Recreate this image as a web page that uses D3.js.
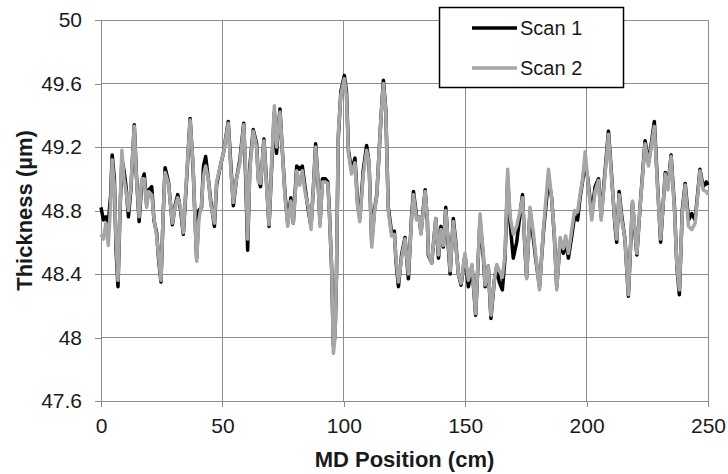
<!DOCTYPE html>
<html>
<head>
<meta charset="utf-8">
<script src="https://cdn.jsdelivr.net/npm/d3@7"></script>
<style>
  body { margin: 0; background: #fff; }
  svg { display: block; font-family: "Liberation Sans", Arial, sans-serif; }
</style>
</head>
<body>
<div id="chart"></div>
<script>
// MD position (cm) where both scans were read
const positions = [
  0, 1, 2, 3, 4, 4.6, 5.5, 6.2, 7, 7.8, 8.6, 9.5, 10.3, 11.3, 12.3, 13.7, 14.6, 15.7, 16.8, 17.8,
  18.8, 19.6, 20.9, 21.8, 22.9, 23.8, 24.7, 25.6, 26.4, 27.8, 29.4, 30.5, 31.6, 32.8, 33.9, 35.2, 36.7, 37.9, 38.7, 39.4,
  40.3, 41.4, 42.2, 43.1, 44.2, 45.2, 46.7, 47.6, 49, 50.4, 52.4, 53.5, 54.5, 55.8, 57.2, 58.8, 59.6, 60.4, 61.3, 62.7,
  64.1, 64.8, 65.7, 67.1, 68.1, 69.2, 70.3, 71.4, 72.3, 73.7, 74.6, 75.8, 76.9, 78.2, 79.2, 80.6, 81.8, 82.9, 84, 85.4,
  86.5, 87.5, 88.4, 89.5, 90.2, 91.2, 92.4, 93.4, 94, 95, 95.7, 96.4, 97, 97.7, 98.8, 100.2, 101.1, 101.9, 103.2, 104.6,
  105.7, 106.6, 108, 109.4, 110.4, 111.5, 112.6, 113.6, 115.3, 116.3, 117.3, 118.3, 119.7, 120.8, 121.5, 122.5, 123.8, 125.2, 126.6, 127.9,
  128.7, 130, 131, 131.8, 133.5, 134.4, 134.8, 136.2, 137.9, 139, 140, 141, 142, 143.1, 143.8, 145.1, 146, 147.2, 148.3, 149.9,
  151.3, 152.8, 154.3, 155.2, 156.1, 157.5, 158.2, 159.5, 160.6, 162, 163, 164, 165.3, 166.4, 167.5, 168.5, 169.8, 171.2, 172.6, 173.6,
  174.6, 175.3, 176.7, 178.1, 179, 180.6, 182.2, 184.3, 185.6, 186.7, 187.7, 189.1, 190.4, 191.4, 192.5, 193.9, 195, 196.3, 197.3, 198.3,
  199.4, 200.5, 202.1, 203.5, 204.9, 206, 207, 209, 210.3, 211.7, 212.4, 213.4, 214.5, 215.8, 217.2, 218.9, 220.7, 222, 224.1, 225.5,
  226.8, 227.9, 229.3, 230.5, 232.4, 233.5, 234.8, 236.2, 237.2, 238.2, 239.4, 240.6, 242, 243.3, 244.7, 246.7, 248, 249.3, 250
];

// Scan 1 thickness (µm)
const scan1 = [
  48.82, 48.74, 48.76, 48.72, 48.90, 49.15, 49.00, 48.55, 48.32, 48.78, 49.12, 49.05, 48.95, 48.76, 48.93, 49.34, 49.02, 48.73, 48.98, 49.03,
  48.84, 48.93, 48.95, 48.74, 48.66, 48.48, 48.35, 48.77, 49.07, 48.98, 48.71, 48.83, 48.90, 48.80, 48.65, 48.98, 49.38, 49.08, 48.76, 48.50,
  48.80, 48.82, 49.08, 49.14, 49.00, 48.86, 48.70, 48.96, 49.07, 49.16, 49.36, 49.08, 48.83, 49.00, 49.12, 49.35, 49.00, 48.55, 49.08, 49.31,
  49.22, 49.00, 48.95, 49.25, 49.00, 48.70, 49.08, 49.42, 49.16, 49.44, 49.20, 48.90, 48.72, 48.88, 48.72, 49.08, 49.06, 49.08, 48.95, 48.80,
  48.70, 48.95, 49.22, 48.95, 48.72, 49.00, 49.00, 48.98, 48.82, 48.43, 47.95, 48.02, 48.40, 49.25, 49.55, 49.65, 49.55, 49.18, 49.05, 49.13,
  48.84, 48.75, 49.05, 49.21, 49.10, 48.60, 48.80, 48.90, 49.38, 49.62, 49.43, 48.82, 48.66, 48.67, 48.48, 48.32, 48.52, 48.63, 48.37, 48.76,
  48.92, 48.76, 48.76, 48.66, 48.93, 48.74, 48.52, 48.47, 48.75, 48.50, 48.70, 48.57, 48.82, 48.56, 48.40, 48.75, 48.62, 48.40, 48.33, 48.52,
  48.32, 48.45, 48.14, 48.44, 48.74, 48.50, 48.32, 48.45, 48.12, 48.36, 48.45, 48.35, 48.30, 48.50, 49.00, 48.72, 48.50, 48.60, 48.78, 48.90,
  48.56, 48.38, 48.80, 48.62, 48.50, 48.32, 48.66, 49.00, 48.88, 48.64, 48.32, 48.60, 48.53, 48.60, 48.50, 48.64, 48.76, 48.74, 48.88, 48.98,
  49.10, 49.00, 48.78, 48.95, 49.00, 48.76, 48.94, 49.30, 49.02, 48.70, 48.60, 48.92, 48.76, 48.62, 48.26, 48.85, 48.52, 48.82, 49.24, 49.10,
  49.24, 49.36, 48.94, 48.60, 49.04, 48.95, 49.15, 48.82, 48.44, 48.27, 48.80, 48.97, 48.74, 48.78, 48.74, 49.06, 48.95, 48.98, 48.96
];

// Scan 2 thickness (µm)
const scan2 = [
  48.65, 48.62, 48.72, 48.58, 48.85, 49.12, 48.95, 48.60, 48.36, 48.80, 49.18, 49.00, 48.92, 48.80, 48.95, 49.33, 49.00, 48.76, 49.00, 49.00,
  48.82, 48.92, 48.90, 48.75, 48.64, 48.50, 48.36, 48.78, 49.04, 48.97, 48.72, 48.82, 48.88, 48.82, 48.66, 49.00, 49.37, 49.10, 48.74, 48.48,
  48.74, 48.84, 49.02, 49.08, 49.00, 48.84, 48.72, 48.98, 49.07, 49.16, 49.35, 49.05, 48.85, 49.00, 49.10, 49.34, 49.05, 48.62, 49.05, 49.30,
  49.20, 48.98, 48.97, 49.24, 48.98, 48.71, 49.10, 49.46, 49.20, 49.42, 49.20, 48.88, 48.70, 48.86, 48.72, 49.05, 48.96, 49.05, 48.92, 48.82,
  48.68, 48.95, 49.20, 48.95, 48.70, 48.98, 48.98, 48.97, 48.80, 48.45, 47.90, 48.00, 48.42, 49.28, 49.53, 49.63, 49.52, 49.16, 49.03, 49.10,
  48.82, 48.73, 49.02, 49.18, 49.10, 48.57, 48.78, 48.90, 49.38, 49.60, 49.42, 48.80, 48.64, 48.65, 48.50, 48.35, 48.50, 48.62, 48.40, 48.74,
  48.90, 48.74, 48.76, 48.65, 48.92, 48.75, 48.53, 48.47, 48.75, 48.52, 48.68, 48.58, 48.80, 48.58, 48.42, 48.73, 48.60, 48.40, 48.34, 48.53,
  48.36, 48.46, 48.15, 48.45, 48.78, 48.52, 48.33, 48.45, 48.14, 48.36, 48.46, 48.42, 48.38, 48.52, 49.06, 48.76, 48.65, 48.70, 48.80, 48.88,
  48.58, 48.37, 48.82, 48.66, 48.52, 48.30, 48.68, 49.06, 48.88, 48.65, 48.30, 48.63, 48.56, 48.64, 48.53, 48.68, 48.80, 48.79, 48.90, 48.99,
  49.17, 48.99, 48.74, 48.92, 48.99, 48.74, 48.92, 49.28, 49.00, 48.72, 48.62, 48.90, 48.74, 48.62, 48.27, 48.86, 48.53, 48.82, 49.22, 49.08,
  49.22, 49.33, 48.92, 48.62, 49.03, 48.93, 49.14, 48.80, 48.45, 48.30, 48.78, 48.96, 48.70, 48.68, 48.72, 49.05, 48.93, 48.92, 48.90
];

const xTicks = [0, 50, 100, 150, 200, 250];
const yTicks = [47.6, 48, 48.4, 48.8, 49.2, 49.6, 50];
const seriesNames = ["Scan 1", "Scan 2"];
const seriesColors = ["#000000", "#a6a6a6"];

const width = 728;
const height = 474;
const marginTop = 20;
const marginRight = 20;
const marginBottom = 73;
const marginLeft = 101;

const svg = d3.select("#chart")
  .append("svg")
    .attr("width", width)
    .attr("height", height)
    .attr("viewBox", [0, 0, width, height]);

const x = d3.scaleLinear()
    .domain([0, 250])
    .range([marginLeft, width - marginRight]);

const y = d3.scaleLinear()
    .domain([47.6, 50])
    .range([height - marginBottom, marginTop]);

// gridlines
svg.append("g")
    .attr("shape-rendering", "crispEdges")
    .attr("stroke", "#8c8c8c")
  .call(g => g.selectAll("line.h")
    .data(yTicks)
    .join("line")
      .attr("class", "h")
      .attr("x1", marginLeft)
      .attr("x2", width - marginRight)
      .attr("y1", d => y(d))
      .attr("y2", d => y(d)))
  .call(g => g.selectAll("line.v")
    .data(xTicks.slice(1))
    .join("line")
      .attr("class", "v")
      .attr("x1", d => x(d))
      .attr("x2", d => x(d))
      .attr("y1", marginTop)
      .attr("y2", height - marginBottom));

// axes
svg.append("g")
    .attr("transform", `translate(0,${height - marginBottom})`)
    .attr("shape-rendering", "crispEdges")
    .call(d3.axisBottom(x).tickValues(xTicks).tickSize(6).tickPadding(11).tickSizeOuter(0))
    .call(g => g.selectAll("line, path").attr("stroke", "#8c8c8c"))
    .call(g => g.selectAll("text").attr("font-size", 21).attr("fill", "#1a1a1a").attr("font-family", null));

svg.append("g")
    .attr("transform", `translate(${marginLeft},0)`)
    .attr("shape-rendering", "crispEdges")
    .call(d3.axisLeft(y).tickValues(yTicks).tickFormat(d3.format("~g")).tickSize(6).tickPadding(13).tickSizeOuter(0))
    .call(g => g.selectAll("line, path").attr("stroke", "#8c8c8c"))
    .call(g => g.selectAll("text").attr("font-size", 21).attr("fill", "#1a1a1a").attr("font-family", null));

// axis titles
svg.append("text")
    .attr("x", (marginLeft + width - marginRight) / 2)
    .attr("y", 467)
    .attr("text-anchor", "middle")
    .attr("font-size", 22)
    .attr("font-weight", "bold")
    .attr("fill", "#1a1a1a")
    .text("MD Position (cm)");

svg.append("text")
    .attr("transform", `translate(32,${(marginTop + height - marginBottom) / 2}) rotate(-90)`)
    .attr("text-anchor", "middle")
    .attr("font-size", 22)
    .attr("font-weight", "bold")
    .attr("fill", "#1a1a1a")
    .text("Thickness (µm)");

// series
const line = d3.line()
    .x((d, i) => x(positions[i]))
    .y(d => y(d));

[scan1, scan2].forEach((values, k) => {
  svg.append("path")
      .datum(values)
      .attr("fill", "none")
      .attr("stroke", seriesColors[k])
      .attr("stroke-width", 3.5)
      .attr("stroke-linejoin", "round")
      .attr("d", line);
});

// legend
const legend = svg.append("g");
legend.append("rect")
    .attr("x", 439.5)
    .attr("y", 7.5)
    .attr("width", 184)
    .attr("height", 80)
    .attr("fill", "#fff")
    .attr("stroke", "#000")
    .attr("stroke-width", 1.5);

legend.selectAll("g.item")
  .data(seriesNames)
  .join("g")
    .attr("class", "item")
    .attr("transform", (d, i) => `translate(472,${28 + i * 40})`)
    .call(g => g.append("line")
      .attr("x1", 0)
      .attr("x2", 45)
      .attr("stroke", (d, i) => seriesColors[i])
      .attr("stroke-width", 3.5))
    .call(g => g.append("text")
      .attr("x", 48)
      .attr("dy", "0.35em")
      .attr("font-size", 20)
      .attr("fill", "#1a1a1a")
      .text(d => d));
</script>
</body>
</html>
